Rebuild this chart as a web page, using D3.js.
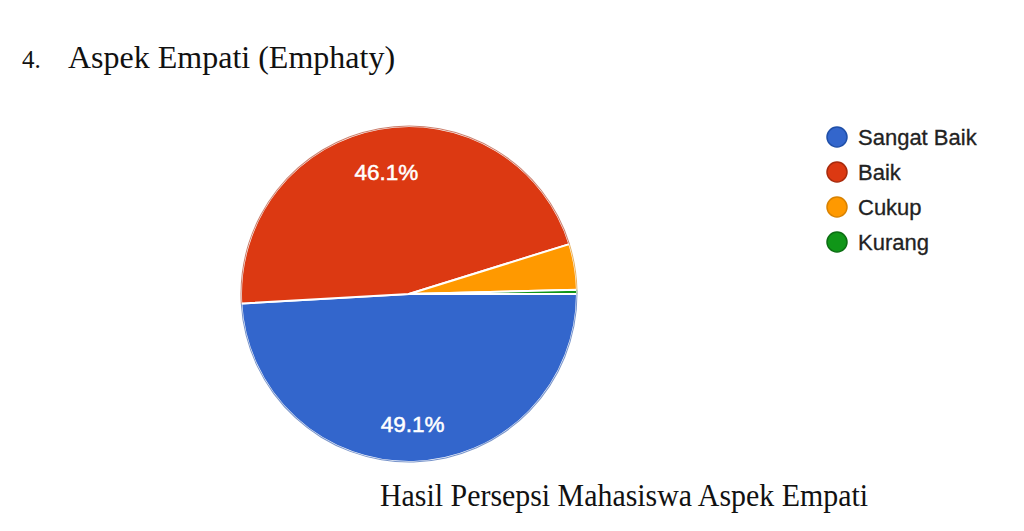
<!DOCTYPE html>
<html><head><meta charset="utf-8">
<script src="https://cdn.jsdelivr.net/npm/d3@7"></script>
<style>body{margin:0;background:#fff}</style>
</head><body>
<svg id="c" width="1024" height="531"></svg>
<script>
const categories = ["Sangat Baik", "Baik", "Cukup", "Kurang"];
const percents = [49.1, 46.1, 4.4, 0.4];
const colors = ["#3366cc", "#dc3912", "#ff9900", "#109618"];
const strokes = ["#1f4fa8", "#a82a0c", "#d98200", "#0b6e12"];
const sliceLabels = ["49.1%", "46.1%", "", ""];

const svg = d3.select("#c");
const W = 1024, H = 531;
svg.append("rect").attr("width", W).attr("height", H).attr("fill", "#fff");

// Title
const title = svg.append("text").attr("y", 68).attr("font-family", "Liberation Serif, Times New Roman, serif").attr("fill", "#111");
title.append("tspan").attr("x", 22).attr("font-size", 25).text("4.");
title.append("tspan").attr("x", 68).attr("font-size", 32).text("Aspek Empati (Emphaty)");

// Pie
const cx = 409, cy = 294, R = 168;
const data = categories.map((c, i) => ({cat: c, v: percents[i], color: colors[i], label: sliceLabels[i]}));
const pie = d3.pie().value(d => d.v).sort(null).startAngle(Math.PI / 2).endAngle(Math.PI / 2 + 2 * Math.PI);
const arcs = pie(data);
const arc = d3.arc().innerRadius(0).outerRadius(R);
const labelArc = d3.arc().innerRadius(127.5).outerRadius(127.5);
const g = svg.append("g").attr("transform", `translate(${cx},${cy})`);
g.selectAll("path").data(arcs).join("path")
  .attr("d", arc).attr("fill", d => d.data.color)
  .attr("stroke", "#fff").attr("stroke-width", 2).attr("stroke-linejoin", "round");
g.selectAll("path.rim").data(arcs).join("path").attr("class", "rim")
  .attr("d", d3.arc().innerRadius(R - 0.5).outerRadius(R + 0.5))
  .attr("fill", (d, i) => strokes[i]).attr("opacity", 0.6);
g.selectAll("text").data(arcs.filter(d => d.data.label)).join("text")
  .attr("transform", d => { const c = labelArc.centroid(d); return `translate(${c[0]},${c[1] + 3.5})`; })
  .attr("text-anchor", "middle").attr("dominant-baseline", "central")
  .attr("font-family", "Liberation Sans, Arial, sans-serif").attr("font-size", 22.5)
  .attr("fill", "#fff").attr("stroke", "#fff").attr("stroke-width", 0.5)
  .text(d => d.data.label);

// Legend
const lg = svg.append("g");
const items = lg.selectAll("g").data(data).join("g")
  .attr("transform", (d, i) => `translate(837,${137 + i * 35})`);
items.append("circle").attr("r", 10).attr("fill", d => d.color)
  .attr("stroke", (d, i) => strokes[i]).attr("stroke-width", 1.5);
items.append("text").attr("x", 21).attr("dy", "0.35em")
  .attr("font-family", "Liberation Sans, Arial, sans-serif").attr("font-size", 22)
  .attr("fill", "#222").attr("stroke", "#222").attr("stroke-width", 0.3).text(d => d.cat);

// Caption
svg.append("text").attr("x", 380).attr("y", 506)
  .attr("font-family", "Liberation Serif, Times New Roman, serif").attr("font-size", 31)
  .attr("textLength", 488).attr("lengthAdjust", "spacingAndGlyphs")
  .attr("fill", "#111").text("Hasil Persepsi Mahasiswa Aspek Empati");
</script>
</body></html>
